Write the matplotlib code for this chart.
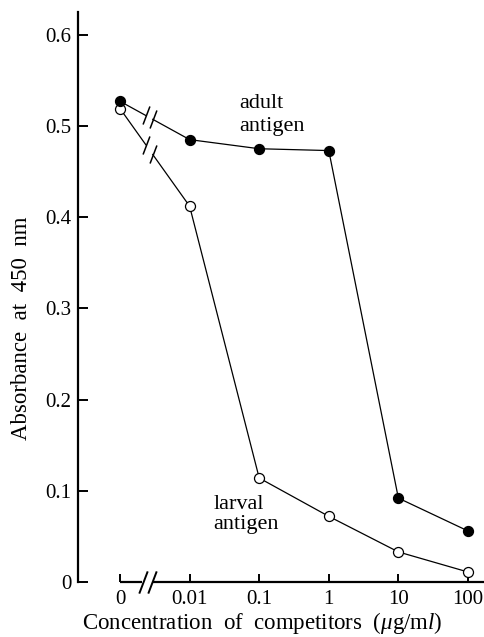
import numpy as np
import matplotlib
matplotlib.use("Agg")
import matplotlib.pyplot as plt
from matplotlib.path import Path

plt.rcParams['font.family'] = ['Liberation Serif', 'DejaVu Serif']
plt.rcParams['mathtext.fontset'] = 'custom'
plt.rcParams['mathtext.rm'] = 'Liberation Serif'
plt.rcParams['mathtext.it'] = 'Liberation Serif:italic'

# ── Data ────────────────────────────────────────────────────────────────────
concentrations = ["0", "0.01", "0.1", "1", "10", "100"]
adult_antigen = [0.527, 0.485, 0.475, 0.473, 0.092, 0.056]
larval_antigen = [0.519, 0.412, 0.114, 0.072, 0.033, 0.011]
yticks = [0, 0.1, 0.2, 0.3, 0.4, 0.5, 0.6]
ytick_labels = ["0", "0.1", "0.2", "0.3", "0.4", "0.5", "0.6"]

xpos = np.arange(len(concentrations))

# one slanted stroke, used for the axis breaks
slash = Path([(-0.38, -1.0), (0.38, 1.0)], [Path.MOVETO, Path.LINETO])

fig = plt.figure(figsize=(4.85, 6.37), dpi=100)
ax = fig.add_axes([0.161, 0.0863, 0.839, 0.895])
ax.set_xlim(-0.603, 5.245)
ax.set_ylim(0, 0.625)

def draw_series(ys, face, gap=(0.37, 0.47)):
    # connecting line, broken between "0" and "0.01"
    x0, x1 = xpos[0], xpos[1]
    y0, y1 = ys[0], ys[1]
    ga = (x0 + gap[0] * (x1 - x0), y0 + gap[0] * (y1 - y0))
    gb = (x0 + gap[1] * (x1 - x0), y0 + gap[1] * (y1 - y0))
    ax.plot([x0, ga[0]], [y0, ga[1]], color='black', lw=0.9, zorder=2)
    ax.plot([gb[0], x1], [gb[1], y1], color='black', lw=0.9, zorder=2)
    ax.plot([ga[0], gb[0]], [ga[1], gb[1]], ls='none', marker=slash,
            ms=13, mew=1.1, color='black', zorder=2)
    ax.plot(xpos[1:], ys[1:], color='black', lw=0.9, zorder=2)
    ax.plot(xpos, ys, ls='none', marker='o', ms=7.2, mfc=face,
            mec='black', mew=0.9, zorder=3, clip_on=False)

draw_series(larval_antigen, 'white')
draw_series(adult_antigen, 'black')

# ── Axes styling ────────────────────────────────────────────────────────────
for s in ['top', 'right']:
    ax.spines[s].set_visible(False)
ax.spines['left'].set_linewidth(1.6)
ax.spines['bottom'].set_linewidth(1.6)
ax.spines['left'].set_bounds(0, 0.625)
ax.spines['bottom'].set_bounds(0.49, 5.245)
ax.plot([0, 0.31], [0, 0], color='black', lw=1.6, clip_on=False,
        solid_capstyle='butt')
ax.plot([0.33, 0.46], [0, 0], ls='none', marker=slash, ms=16, mew=1.4,
        color='black', clip_on=False)

ax.set_yticks(yticks)
ax.set_yticklabels(ytick_labels)
ax.set_xticks(xpos)
ax.set_xticklabels(concentrations)
ax.tick_params(axis='y', direction='in', length=7, width=1.4, pad=5,
               labelsize=15)
ax.tick_params(axis='x', direction='in', length=6, width=1.4, pad=6,
               labelsize=15)

ax.text(0.452, -0.072, r"Concentration  of  competitors  ($\mu$g/m$l$)",
        transform=ax.transAxes, ha='center', va='center', fontsize=16.5)
ax.text(-0.138, 0.445, "Absorbance  at  450  nm", transform=ax.transAxes,
        ha='center', va='center', rotation=90, fontsize=16.5)

ax.text(1.72, 0.512, "adult\nantigen", ha='left', va='center',
        fontsize=16, linespacing=1.25)
ax.text(1.34, 0.074, "larval\nantigen", ha='left', va='center',
        fontsize=16, linespacing=1.1)

fig.savefig("out.png", dpi=100)
